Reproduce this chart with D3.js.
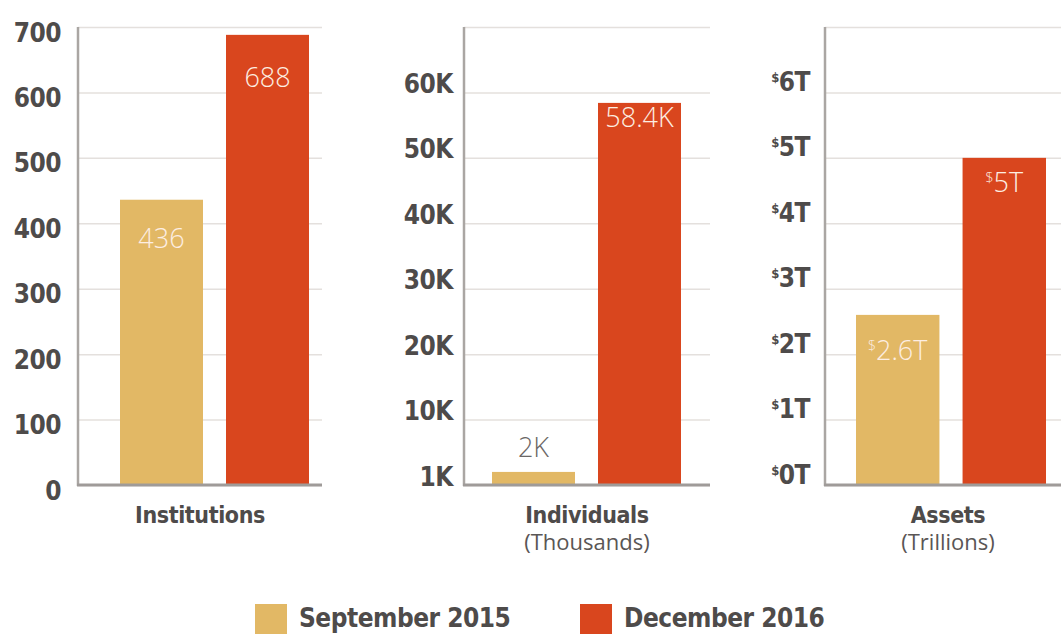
<!DOCTYPE html>
<html>
<head>
<meta charset="utf-8">
<script src="https://cdn.jsdelivr.net/npm/d3@7"></script>
<style>
    body { margin: 0; background: #ffffff; }
</style>
</head>
<body>
<div id="chart"></div>
<script>
// ---- data ----
const seriesNames = ["September 2015", "December 2016"];
const categories = ["Institutions", "Individuals", "Assets"];
const subtitles = ["", "(Thousands)", "(Trillions)"];

const institutionsValues = [436, 688];
const individualsValues = [2, 58.4];   // thousands
const assetsValues = [2.6, 5];         // trillions

const institutionsLabels = ["436", "688"];
const individualsLabels = ["2K", "58.4K"];
const assetsLabels = ["2.6T", "5T"];

const institutionsTicks = [0, 100, 200, 300, 400, 500, 600, 700];
const institutionsTickLabels = ["0", "100", "200", "300", "400", "500", "600", "700"];
const individualsTicks = [0, 10, 20, 30, 40, 50, 60, 70];
const individualsTickLabels = ["1K", "10K", "20K", "30K", "40K", "50K", "60K", ""];
const assetsTicks = [0, 1, 2, 3, 4, 5, 6, 7];
const assetsTickLabels = ["0T", "1T", "2T", "3T", "4T", "5T", "6T", ""];

const colors = ["#e2b865", "#d9461e"];
const gridColor = "#e4e0dd";
const axisColor = "#aaa6a3";
const textColor = "#4e4b4a";

const boldFont = '"DejaVu Sans Condensed", "DejaVu Sans", sans-serif';
const lightFont = '"Open Sans", "Noto Sans", sans-serif';

const width = 1061, height = 634;
const plotTop = 27, plotBottom = 485;

// panel layout (positions only)
const panels = [
    { values: institutionsValues, labels: institutionsLabels, ticks: institutionsTicks, tickLabels: institutionsTickLabels,
      prefix: "", axisX: 78, right: 322, barStart: 120, barEnd: 309, tickX: -17, tickDy: 5, labelDy: [48, 52], labelOutside: [false, false] },
    { values: individualsValues, labels: individualsLabels, ticks: individualsTicks, tickLabels: individualsTickLabels,
      prefix: "", axisX: 464, right: 710, barStart: 492, barEnd: 681, tickX: -11, tickDy: -9, labelDy: [-15, 24], labelOutside: [true, false] },
    { values: assetsValues, labels: assetsLabels, ticks: assetsTicks, tickLabels: assetsTickLabels,
      prefix: "$", axisX: 825, right: 1075, barStart: 856, barEnd: 1046, tickX: -15, tickDy: -11, labelDy: [45, 34], labelOutside: [false, false] }
];

const svg = d3.select("#chart")
    .append("svg")
    .attr("width", width)
    .attr("height", height);

// writes text with an optional small raised prefix ($)
function writeWithPrefix(sel, prefix, txt, smallSize, raise) {
    sel.text(null);
    if (prefix) {
        sel.append("tspan").attr("font-size", smallSize).attr("dy", -raise).text(prefix);
        sel.append("tspan").attr("dy", raise).text(txt);
    } else {
        sel.text(txt);
    }
}

panels.forEach((p, pi) => {
    const y = d3.scaleLinear()
        .domain([p.ticks[0], p.ticks[p.ticks.length - 1]])
        .range([plotBottom, plotTop]);

    const x = d3.scaleBand()
        .domain(seriesNames)
        .range([p.barStart, p.barEnd])
        .paddingInner(0.217)
        .paddingOuter(0);

    // gridlines + tick labels
    const axis = d3.axisLeft(y)
        .tickValues(p.ticks)
        .tickSize(-(p.right - p.axisX))
        .tickFormat((d, i) => p.tickLabels[i]);

    const g = svg.append("g")
        .attr("transform", `translate(${p.axisX},0)`)
        .call(axis);

    g.select(".domain").remove();
    g.selectAll(".tick line")
        .attr("stroke", gridColor)
        .attr("stroke-width", 1.5);
    g.selectAll(".tick text")
        .attr("x", p.tickX)
        .attr("dy", null)
        .attr("y", p.tickDy + 9)
        .attr("fill", textColor)
        .style("font-family", boldFont)
        .style("font-weight", "bold")
        .style("font-size", "26px")
        .style("letter-spacing", "-0.5px")
        .each(function (d, i) {
            writeWithPrefix(d3.select(this), p.tickLabels[i] ? p.prefix : "", p.tickLabels[i], 13, 9);
        });

    // bars
    svg.append("g")
        .selectAll("rect")
        .data(p.values)
        .join("rect")
        .attr("x", (d, i) => x(seriesNames[i]))
        .attr("y", d => y(d))
        .attr("width", x.bandwidth())
        .attr("height", d => plotBottom - y(d))
        .attr("fill", (d, i) => colors[i]);

    // value labels
    svg.append("g")
        .selectAll("text")
        .data(p.values)
        .join("text")
        .attr("x", (d, i) => x(seriesNames[i]) + x.bandwidth() / 2)
        .attr("y", (d, i) => y(d) + p.labelDy[i])
        .attr("text-anchor", "middle")
        .attr("fill", (d, i) => p.labelOutside[i] ? "#6b6766" : "#fdeee2")
        .style("font-family", lightFont)
        .style("font-weight", "300")
        .style("font-size", "27px")
        .each(function (d, i) {
            writeWithPrefix(d3.select(this), p.prefix, p.labels[i], 14, 9);
        });

    // y axis line and baseline
    svg.append("line")
        .attr("x1", p.axisX).attr("x2", p.axisX)
        .attr("y1", y(p.ticks[p.ticks.length - 1])).attr("y2", plotBottom + 1)
        .attr("stroke", axisColor)
        .attr("stroke-width", 2.5);
    svg.append("line")
        .attr("x1", p.axisX - 1).attr("x2", p.right)
        .attr("y1", plotBottom).attr("y2", plotBottom)
        .attr("stroke", "#9f9b99")
        .attr("stroke-width", 3);

    // category title + subtitle
    const cx = Math.min((p.axisX + p.right) / 2, 948);
    svg.append("text")
        .attr("x", cx)
        .attr("y", 523)
        .attr("text-anchor", "middle")
        .attr("fill", textColor)
        .style("font-family", boldFont)
        .style("font-weight", "bold")
        .style("font-size", "23px")
        .style("letter-spacing", "-0.4px")
        .text(categories[pi]);
    if (subtitles[pi]) {
        svg.append("text")
            .attr("x", cx)
            .attr("y", 550)
            .attr("text-anchor", "middle")
            .attr("fill", "#5a5655")
            .style("font-family", lightFont)
            .style("font-size", "22px")
            .text(subtitles[pi]);
    }
});

// legend
const legendX = [255, 580];
const legend = svg.append("g")
    .selectAll("g")
    .data(seriesNames)
    .join("g")
    .attr("transform", (d, i) => `translate(${legendX[i]},604)`);

legend.append("rect")
    .attr("width", 32)
    .attr("height", 32)
    .attr("fill", (d, i) => colors[i]);

legend.append("text")
    .attr("x", 44)
    .attr("y", 23)
    .attr("fill", textColor)
    .style("font-family", boldFont)
    .style("font-weight", "bold")
    .style("font-size", "26px")
    .style("letter-spacing", "-0.5px")
    .text(d => d);
</script>
</body>
</html>
